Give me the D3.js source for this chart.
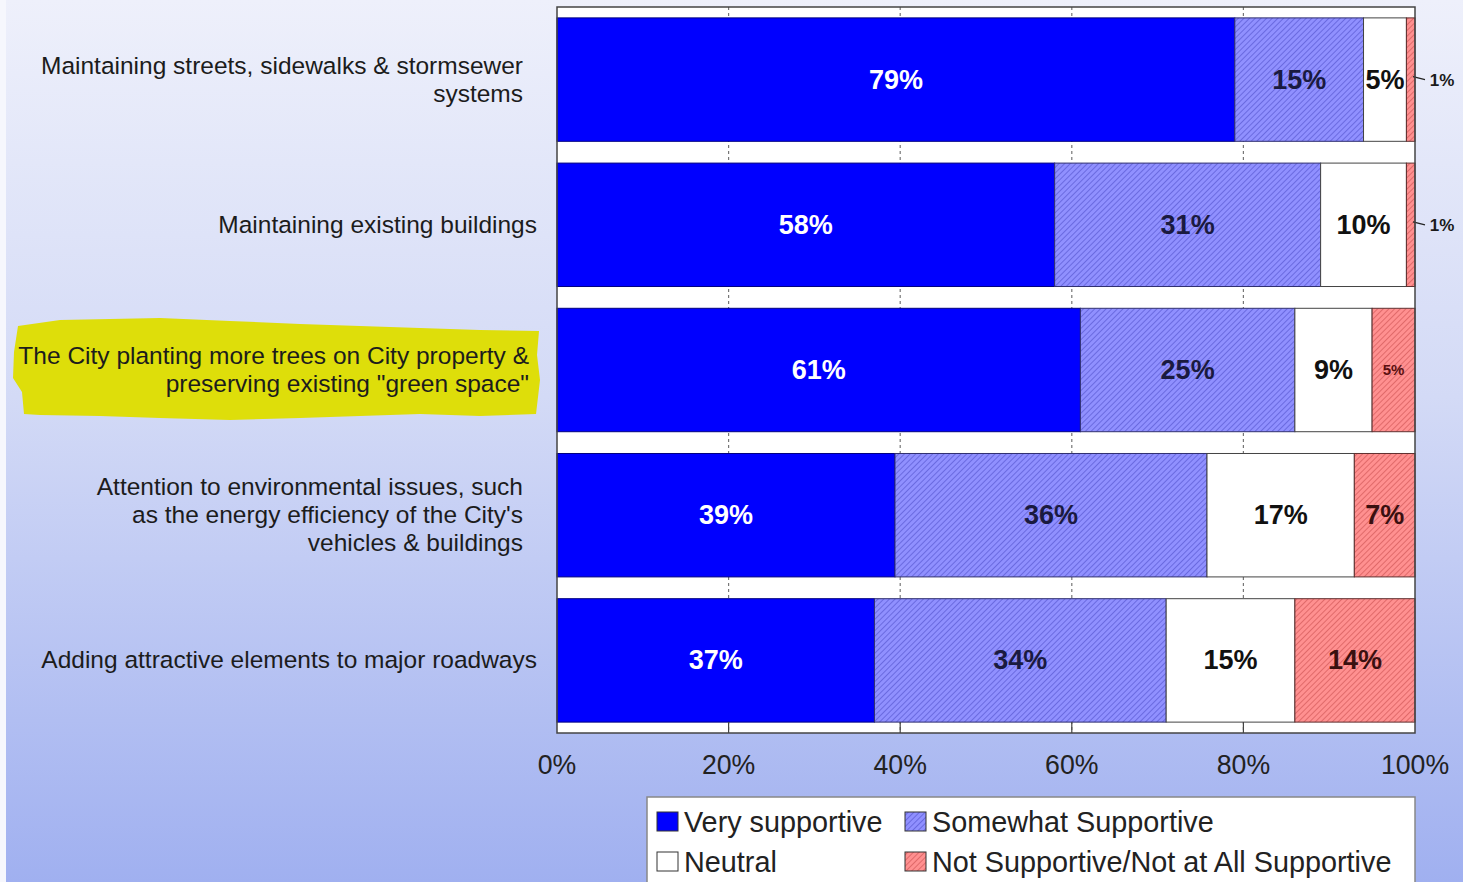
<!DOCTYPE html>
<html>
<head>
<meta charset="utf-8">
<script src="https://cdn.jsdelivr.net/npm/d3@7"></script>
<style>
  html, body { margin: 0; padding: 0; overflow: hidden; }
  body { width: 1463px; height: 882px; }
  text { font-family: "Liberation Sans", Arial, sans-serif; }
</style>
</head>
<body>
<svg id="chart" width="1463" height="882"></svg>
<script>
// ---------- data ----------
const categories = [
  ["Maintaining streets, sidewalks & stormsewer", "systems"],
  ["Maintaining existing buildings"],
  ["The City planting more trees on City property &", "preserving existing \"green space\""],
  ["Attention to environmental issues, such", "as the energy efficiency of the City's", "vehicles & buildings"],
  ["Adding attractive elements to major roadways"]
];
const seriesNames = ["Very supportive", "Somewhat Supportive", "Neutral", "Not Supportive/Not at All Supportive"];
const verySupportive     = [79, 58, 61, 39, 37];
const somewhatSupportive = [15, 31, 25, 36, 34];
const neutral            = [5, 10, 9, 17, 15];
const notSupportive      = [1, 1, 5, 7, 14];
const tickValues = [0, 20, 40, 60, 80, 100];
const tickLabels = ["0%", "20%", "40%", "60%", "80%", "100%"];
const highlighted = 2;

// ---------- setup ----------
const svg = d3.select("#chart");
const W = 1463, H = 882;
const defs = svg.append("defs");

const bg = defs.append("linearGradient").attr("id", "bg").attr("x1", 0).attr("y1", 0).attr("x2", 0).attr("y2", 1);
bg.append("stop").attr("offset", "0%").attr("stop-color", "#eef0fb");
bg.append("stop").attr("offset", "45%").attr("stop-color", "#d3daf6");
bg.append("stop").attr("offset", "100%").attr("stop-color", "#a0b0f0");
svg.append("rect").attr("width", W).attr("height", H).attr("fill", "url(#bg)");
svg.append("rect").attr("width", 6).attr("height", H).attr("fill", "#f6f7fd");

function hatch(id, base, line) {
  const p = defs.append("pattern").attr("id", id).attr("patternUnits", "userSpaceOnUse")
    .attr("width", 4).attr("height", 4).attr("patternTransform", "rotate(45)");
  p.append("rect").attr("width", 4).attr("height", 4).attr("fill", base);
  p.append("rect").attr("width", 1).attr("height", 4).attr("fill", line);
}
hatch("hBlue", "#9090ff", "#6a6ae0");
hatch("hRed", "#ff9090", "#e06a6a");

const colors = ["#0000ff", "url(#hBlue)", "#ffffff", "url(#hRed)"];
const strokes = ["#000080", "#303070", "#444", "#603030"];
const textColors = ["#ffffff", "#1a1a40", "#111", "#3a1010"];

const plot = { left: 557, right: 1415, top: 7, bottom: 733 };
const x = d3.scaleLinear().domain([0, 100]).range([plot.left, plot.right]);
const y = d3.scaleBand().domain(d3.range(categories.length))
  .range([plot.top, plot.bottom]).paddingInner(0.15).paddingOuter(0.075);

// stacked data
const table = categories.map((c, i) => {
  const vals = [verySupportive[i], somewhatSupportive[i], neutral[i], notSupportive[i]];
  const tot = d3.sum(vals);
  let acc = 0;
  return vals.map((v, k) => { const s = acc; acc += v; return { i, k, v, x0: s / tot * 100, x1: acc / tot * 100 }; });
});

// highlight blob behind category 3 label
{
  const yc = y(highlighted) + y.bandwidth() / 2;
  const pts = [
    [18, yc - 44], [60, yc - 50], [110, yc - 51], [160, yc - 52], [230, yc - 49], [300, yc - 46], [360, yc - 44],
    [420, yc - 42], [480, yc - 40], [539, yc - 39], [537, yc - 15], [540, yc + 10], [536, yc + 44],
    [480, yc + 46], [420, yc + 44], [360, yc + 46], [300, yc + 48], [230, yc + 50], [160, yc + 48],
    [100, yc + 46], [40, yc + 45], [24, yc + 44], [22, yc + 22], [13, yc + 8], [14, yc - 18]
  ];
  svg.append("path").attr("d", d3.line()(pts) + "Z").attr("fill", "#dede0a");
}

// plot area
svg.append("rect").attr("x", plot.left).attr("y", plot.top)
  .attr("width", plot.right - plot.left).attr("height", plot.bottom - plot.top)
  .attr("fill", "#ffffff");

// gridlines
svg.append("g").selectAll("line").data(tickValues.slice(1, -1)).join("line")
  .attr("x1", d => x(d)).attr("x2", d => x(d))
  .attr("y1", plot.top).attr("y2", plot.bottom)
  .attr("stroke", "#777").attr("stroke-width", 1.2).attr("stroke-dasharray", "3,3");

// bars
const rows = svg.append("g").selectAll("g").data(table).join("g");
rows.selectAll("rect").data(d => d).join("rect")
  .attr("x", d => x(d.x0)).attr("width", d => x(d.x1) - x(d.x0))
  .attr("y", d => y(d.i)).attr("height", y.bandwidth())
  .attr("fill", d => colors[d.k]).attr("stroke", d => strokes[d.k]).attr("stroke-width", 1);

// value labels
rows.each(function (row) {
  const g = d3.select(this);
  row.forEach(d => {
    const cy = y(d.i) + y.bandwidth() / 2;
    const w = x(d.x1) - x(d.x0);
    if (w < 20) {
      g.append("line").attr("x1", x(d.x1) - 2).attr("y1", cy - 3).attr("x2", x(d.x1) + 10).attr("y2", cy)
        .attr("stroke", "#222").attr("stroke-width", 1.2);
      g.append("text").attr("x", x(d.x1) + 27).attr("y", cy + 6).attr("text-anchor", "middle")
        .attr("font-size", 17).attr("font-weight", "bold").attr("fill", "#1a1a1a").text(d.v + "%");
    } else {
      const small = d.k === 3 && w < 45;
      g.append("text").attr("x", (x(d.x0) + x(d.x1)) / 2)
        .attr("y", cy + (small ? 5 : 9)).attr("text-anchor", "middle")
        .attr("font-size", small ? 15 : 27).attr("font-weight", "bold")
        .attr("fill", small ? "#5a1010" : textColors[d.k]).text(d.v + "%");
    }
  });
});

// plot border
svg.append("rect").attr("x", plot.left).attr("y", plot.top)
  .attr("width", plot.right - plot.left).attr("height", plot.bottom - plot.top)
  .attr("fill", "none").attr("stroke", "#444").attr("stroke-width", 1.5);

// x axis
const xAxis = d3.axisBottom(x).tickValues(tickValues).tickFormat((d, i) => tickLabels[i]).tickSize(0).tickPadding(18);
const ax = svg.append("g").attr("transform", `translate(0,${plot.bottom})`).call(xAxis);
ax.select(".domain").remove();
ax.selectAll("text").attr("font-size", 27.5).attr("fill", "#222").attr("font-family", "Liberation Sans, Arial, sans-serif")
  .attr("transform", "scale(0.97,1)").attr("dy", "0.85em");
ax.selectAll(".tick").attr("transform", d => `translate(${x(d)},0)`);
svg.append("g").selectAll("line").data(tickValues.slice(1, -1)).join("line")
  .attr("x1", d => x(d)).attr("x2", d => x(d))
  .attr("y1", y(categories.length - 1) + y.bandwidth()).attr("y2", plot.bottom)
  .attr("stroke", "#444").attr("stroke-width", 1.2);

// category labels
const lineH = 28;
categories.forEach((lines, i) => {
  const cy = y(i) + y.bandwidth() / 2;
  const xr = lines.length === 1 ? 537 : (i === highlighted ? 529 : 523);
  const t = svg.append("text").attr("text-anchor", "end").attr("font-size", 24.5).attr("fill", "#1c1c1c");
  lines.forEach((ln, j) => {
    t.append("tspan").attr("x", xr).attr("y", cy + 8 + (j - (lines.length - 1) / 2) * lineH).text(ln);
  });
});

// legend
const lg = svg.append("g");
lg.append("rect").attr("x", 647).attr("y", 797).attr("width", 768).attr("height", 100)
  .attr("fill", "#ffffff").attr("stroke", "#888").attr("stroke-width", 1.5);
const legPos = [[657, 822], [905, 822], [657, 862], [905, 862]];
seriesNames.forEach((n, k) => {
  const [lx, ly] = legPos[k];
  lg.append("rect").attr("x", lx).attr("y", ly - 10).attr("width", 21).attr("height", 19)
    .attr("fill", colors[k]).attr("stroke", "#333").attr("stroke-width", 1);
  lg.append("text").attr("x", lx + 27).attr("y", ly + 10).attr("font-size", 28.8).attr("fill", "#222").text(n);
});
</script>
</body>
</html>
